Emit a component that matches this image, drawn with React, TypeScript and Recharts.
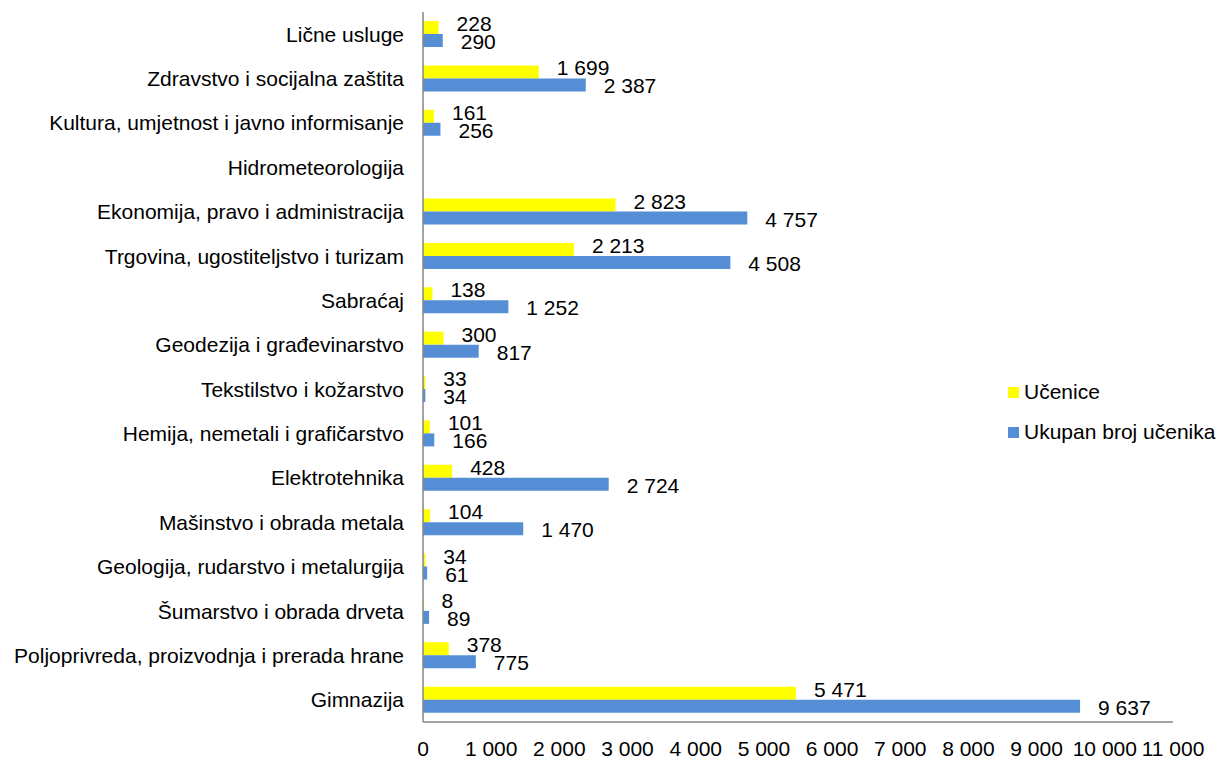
import { BarChart, Bar, XAxis, YAxis, Legend, LabelList } from "recharts";

const categories = [
  "Lične usluge",
  "Zdravstvo i socijalna zaštita",
  "Kultura, umjetnost i javno informisanje",
  "Hidrometeorologija",
  "Ekonomija, pravo i administracija",
  "Trgovina, ugostiteljstvo i turizam",
  "Sabraćaj",
  "Geodezija i građevinarstvo",
  "Tekstilstvo i kožarstvo",
  "Hemija, nemetali i grafičarstvo",
  "Elektrotehnika",
  "Mašinstvo i obrada metala",
  "Geologija, rudarstvo i metalurgija",
  "Šumarstvo i obrada drveta",
  "Poljoprivreda, proizvodnja i prerada hrane",
  "Gimnazija",
];

const ucenice = [228, 1699, 161, null, 2823, 2213, 138, 300, 33, 101, 428, 104, 34, 8, 378, 5471];
const ukupno = [290, 2387, 256, null, 4757, 4508, 1252, 817, 34, 166, 2724, 1470, 61, 89, 775, 9637];

const xTicks = [0, 1000, 2000, 3000, 4000, 5000, 6000, 7000, 8000, 9000, 10000, 11000];
const legendOrder = ["Učenice", "Ukupan broj učenika"];

const data = categories.map((name, i) => ({
  name,
  ucenice: ucenice[i],
  ukupno: ukupno[i],
}));

const FONT = "'Liberation Sans', Arial, sans-serif";
const FS = 21;
const fmt = (v: number) => String(v).replace(/\B(?=(\d{3})+(?!\d))/g, " ");

const valueLabel = (dy: number) => (props: any) => {
  const { x, y, width, height, value } = props;
  if (value == null) return null;
  return (
    <text
      x={Number(x) + Number(width) + 18}
      y={Number(y) + Number(height) / 2 + dy}
      dominantBaseline="central"
      fontSize={FS}
      fontFamily={FONT}
      fill="#000"
    >
      {fmt(value)}
    </text>
  );
};

const renderLegend = (props: any) => {
  const items = [...(props.payload || [])].sort(
    (a: any, b: any) => legendOrder.indexOf(a.value) - legendOrder.indexOf(b.value)
  );
  return (
    <div style={{ fontFamily: FONT, fontSize: FS, color: "#000" }}>
      {items.map((p: any) => (
        <div key={p.value} style={{ display: "flex", alignItems: "center", height: 40 }}>
          <span style={{ width: 11, height: 11, background: p.color, marginRight: 5, display: "inline-block" }} />
          <span>{p.value}</span>
        </div>
      ))}
    </div>
  );
};

export default function App() {
  return (
    <div style={{ position: "absolute", left: 0, top: 0, background: "#fff" }}>
      <BarChart
        width={1219}
        height={758}
        data={data}
        layout="vertical"
        margin={{ top: 12, right: 46, bottom: 6, left: 0 }}
        barGap={0}
        barSize={13}
      >
        <XAxis
          type="number"
          domain={[0, 11000]}
          ticks={xTicks}
          tickFormatter={fmt}
          interval={0}
          tickLine={false}
          tickSize={0}
          tickMargin={19}
          height={30}
          axisLine={{ stroke: "#868686", strokeWidth: 1.5 }}
          tick={{ fontSize: FS, fontFamily: FONT, fill: "#000" }}
        />
        <YAxis
          type="category"
          dataKey="name"
          width={423}
          interval={0}
          tickLine={false}
          tickSize={0}
          tickMargin={19}
          axisLine={{ stroke: "#868686", strokeWidth: 1.5 }}
          tick={{ fontSize: FS, fontFamily: FONT, fill: "#000" }}
        />
        <Legend
          layout="vertical"
          align="center"
          verticalAlign="middle"
          content={renderLegend}
          wrapperStyle={{ left: 1008, top: 372, width: 211 }}
        />
        <Bar dataKey="ucenice" name="Učenice" fill="#FFFF00" isAnimationActive={false}>
          <LabelList dataKey="ucenice" content={valueLabel(-4)} />
        </Bar>
        <Bar dataKey="ukupno" name="Ukupan broj učenika" fill="#558ED5" isAnimationActive={false}>
          <LabelList dataKey="ukupno" content={valueLabel(1)} />
        </Bar>
      </BarChart>
    </div>
  );
}
